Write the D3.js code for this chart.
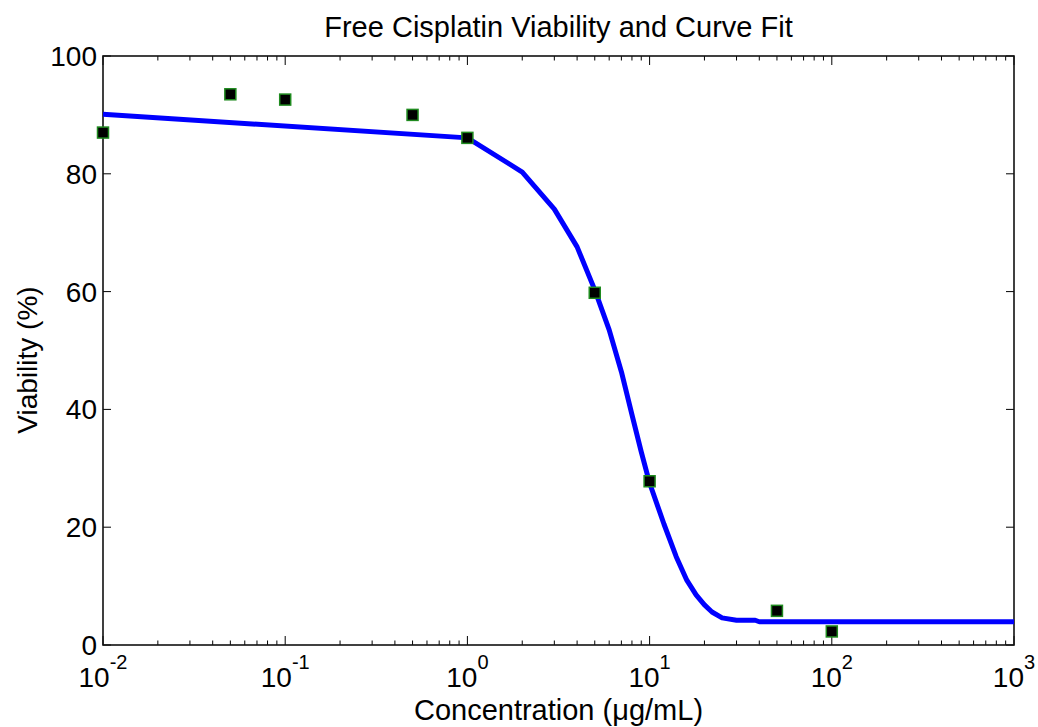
<!DOCTYPE html>
<html>
<head>
<meta charset="utf-8">
<script src="https://cdn.jsdelivr.net/npm/d3@7"></script>
<style>
  html, body { margin: 0; padding: 0; background: #fff; }
  svg { display: block; font-family: "Liberation Sans", Arial, sans-serif; }
</style>
</head>
<body>
<svg id="chart" width="1038" height="727"></svg>
<script>
// Measured viability of free cisplatin at each concentration (µg/mL)
const doses = [0.01, 0.05, 0.1, 0.5, 1, 5, 10, 50, 100];
const viability = [87.0, 93.5, 92.6, 90.0, 86.1, 59.8, 27.8, 5.8, 2.3];

// Fitted dose-response curve, sampled at these concentrations
const fitDoses = [0.01, 1, 2, 3, 4, 5, 6, 7, 8, 9, 10, 12, 14, 16, 18, 20, 22, 25, 30, 38, 40, 1000];
const fitViability = [90.1, 86.1, 80.3, 74.0, 67.6, 60.3, 53.5, 46.4, 39.1, 32.8, 27.5, 20.5, 15.0, 11.0, 8.5, 6.8, 5.6, 4.6, 4.2, 4.2, 3.95, 3.95];

// Axis tick values
const xDecades = [-2, -1, 0, 1, 2, 3];
const yTicks = [0, 20, 40, 60, 80, 100];

const plotLeft = 103, plotRight = 1014, plotTop = 56, plotBottom = 645;

const svg = d3.select("#chart");
const x = d3.scaleLog().domain([0.01, 1000]).range([plotLeft, plotRight]);
const y = d3.scaleLinear().domain([0, 100]).range([plotBottom, plotTop]);

// Minor ticks: 2..9 times each decade
const minor = [];
for (let k = -2; k < 3; k++) for (let m = 2; m <= 9; m++) minor.push(m * Math.pow(10, k));

const tickG = svg.append("g").attr("stroke", "#000").attr("stroke-width", 1);
const MAJ = 9, MIN = 4.5;
// bottom & top x ticks (pointing inward)
xDecades.forEach(k => {
  const px = x(Math.pow(10, k));
  tickG.append("line").attr("x1", px).attr("x2", px).attr("y1", plotBottom).attr("y2", plotBottom - MAJ);
  tickG.append("line").attr("x1", px).attr("x2", px).attr("y1", plotTop).attr("y2", plotTop + MAJ);
});
minor.forEach(v => {
  const px = x(v);
  tickG.append("line").attr("x1", px).attr("x2", px).attr("y1", plotBottom).attr("y2", plotBottom - MIN);
  tickG.append("line").attr("x1", px).attr("x2", px).attr("y1", plotTop).attr("y2", plotTop + MIN);
});
// left & right y ticks
yTicks.forEach(v => {
  const py = y(v);
  tickG.append("line").attr("x1", plotLeft).attr("x2", plotLeft + 8).attr("y1", py).attr("y2", py);
  tickG.append("line").attr("x1", plotRight).attr("x2", plotRight - 8).attr("y1", py).attr("y2", py);
});

// Axes box
svg.append("rect")
  .attr("x", plotLeft).attr("y", plotTop)
  .attr("width", plotRight - plotLeft).attr("height", plotBottom - plotTop)
  .attr("fill", "none").attr("stroke", "#111").attr("stroke-width", 1.6);

// Y tick labels
svg.append("g").selectAll("text").data(yTicks).join("text")
  .attr("x", plotLeft - 6).attr("y", d => y(d) + 10)
  .attr("text-anchor", "end")
  .attr("font-size", 28).attr("fill", "#000")
  .text(d => d);

// X tick labels: 10 with superscript exponent
const xl = svg.append("g");
xDecades.forEach(k => {
  const t = xl.append("text")
    .attr("y", 687)
    .attr("font-size", 28).attr("fill", "#000")
    .attr("text-anchor", "middle")
    .attr("x", x(Math.pow(10, k)));
  t.append("tspan").text("10");
  t.append("tspan").attr("font-size", 20).attr("dy", -18).text(String(k));
});

// Fitted curve
const line = d3.line().x((d, i) => x(fitDoses[i])).y(d => y(d));
svg.append("path")
  .datum(fitViability)
  .attr("d", line)
  .attr("fill", "none")
  .attr("stroke", "#0000ff")
  .attr("stroke-width", 5)
  .attr("stroke-linejoin", "round");

// Measured points
svg.append("g").selectAll("rect").data(viability).join("rect")
  .attr("x", (d, i) => x(doses[i]) - 5.5)
  .attr("y", d => y(d) - 5.5)
  .attr("width", 11).attr("height", 11)
  .attr("fill", "#000")
  .attr("stroke", "#1f8a1f").attr("stroke-width", 1.5);

// Title and axis labels
svg.append("text")
  .attr("x", (plotLeft + plotRight) / 2).attr("y", 37)
  .attr("text-anchor", "middle").attr("font-size", 29).attr("fill", "#000")
  .text("Free Cisplatin Viability and Curve Fit");

svg.append("text")
  .attr("x", (plotLeft + plotRight) / 2).attr("y", 720)
  .attr("text-anchor", "middle").attr("font-size", 29).attr("fill", "#000")
  .text("Concentration (μg/mL)");

svg.append("text")
  .attr("transform", `translate(37, 360) rotate(-90)`)
  .attr("text-anchor", "middle").attr("font-size", 28).attr("fill", "#000")
  .text("Viability (%)");
</script>
</body>
</html>
